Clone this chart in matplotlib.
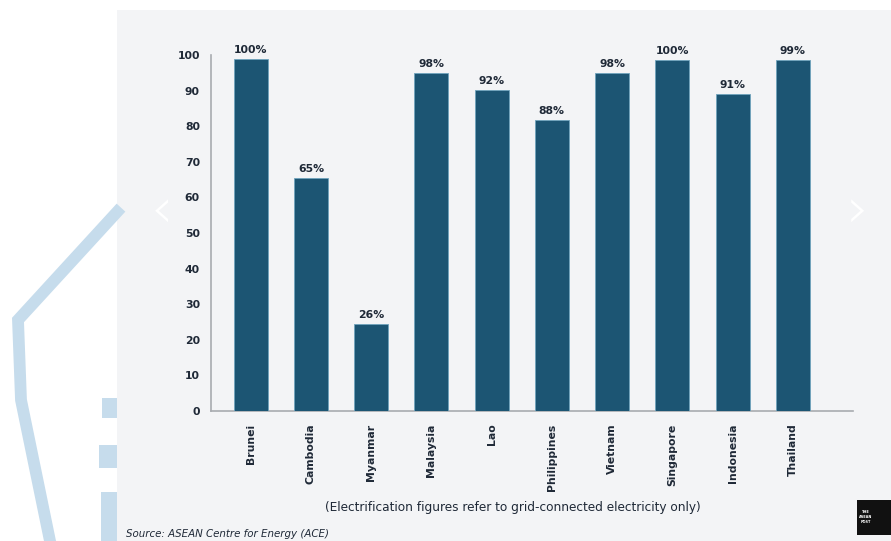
import matplotlib
matplotlib.use("Agg")
import matplotlib.pyplot as plt
from matplotlib.patches import Rectangle
from matplotlib.lines import Line2D

countries = ["Brunei", "Cambodia", "Myanmar", "Malaysia", "Lao",
             "Philippines", "Vietnam", "Singapore", "Indonesia", "Thailand"]
bar_heights = [98.8, 65.5, 24.4, 95.0, 90.2, 81.7, 95.0, 98.6, 89.0, 98.6]
value_labels = ["100%", "65%", "26%", "98%", "92%", "88%", "98%", "100%", "91%", "99%"]
y_ticks = [0, 10, 20, 30, 40, 50, 60, 70, 80, 90, 100]
caption = "(Electrification figures refer to grid-connected electricity only)"
source = "Source: ASEAN Centre for Energy (ACE)"

W, H = 891, 541
fig = plt.figure(figsize=(W / 100, H / 100), dpi=100)
fig.patch.set_facecolor("white")

def fx(px):
    return px / W

def fy(py):
    return 1 - py / H

# watermark (light blue outline on the left)
wm = "#c6dcec"
fig.add_artist(Line2D([fx(117), fx(18), fx(21), fx(50)],
                      [fy(212), fy(320), fy(400), fy(541)],
                      transform=fig.transFigure, color=wm, lw=8.5, solid_joinstyle="miter"))
for (x0, y0, x1, y1) in [(102, 398, 117, 418), (99, 445, 117, 468), (101, 492, 117, 541)]:
    fig.add_artist(Rectangle((fx(x0), fy(y1)), fx(x1) - fx(x0), fy(y0) - fy(y1),
                             transform=fig.transFigure, color=wm, lw=0))

# grey panel
panel = Rectangle((fx(117), 0), 1 - fx(117), fy(10), transform=fig.transFigure,
                  facecolor="#f3f4f6", edgecolor="none", zorder=0)
fig.add_artist(panel)

# carousel arrows
fig.text(fx(162), fy(212), "\u2039", color="white", fontsize=40, ha="center", va="center",
         family="DejaVu Sans", fontweight="light")
fig.text(fx(858), fy(212), "\u203a", color="white", fontsize=40, ha="center", va="center",
         family="DejaVu Sans", fontweight="light")

ax = fig.add_axes([fx(211), fy(411), fx(853) - fx(211), fy(55) - fy(411)])
ax.set_facecolor("none")
ax.set_zorder(2)

x = list(range(len(countries)))
bar_color = "#1c5573"
ax.bar(x, bar_heights, width=0.565, color=bar_color, edgecolor="#6fa3bd",
       linewidth=0.6, zorder=3)

txt_color = "#1f2937"
FONT = "DejaVu Sans"
for xi, h, lab in zip(x, bar_heights, value_labels):
    ax.annotate(lab, (xi, h), xytext=(0, 3), textcoords="offset points",
                ha="center", va="bottom", fontsize=7.8, fontweight="bold",
                color=txt_color, family=FONT, annotation_clip=False)

ax.set_xlim(-0.66, len(countries) - 1 + 1.0)
ax.set_ylim(0, 100)
ax.set_yticks(y_ticks)
ax.set_yticklabels([str(t) for t in y_ticks], fontsize=7.8, fontweight="bold",
                   color=txt_color, family=FONT)
ax.set_xticks(x)
ax.set_xticklabels(countries, rotation=90, fontsize=7.8, fontweight="bold",
                   color=txt_color, family=FONT, ha="center", va="top")
ax.tick_params(axis="both", length=0)
ax.tick_params(axis="y", pad=8)
ax.tick_params(axis="x", pad=9)
for s in ["top", "right"]:
    ax.spines[s].set_visible(False)
for s in ["left", "bottom"]:
    ax.spines[s].set_color("#a8abb0")
    ax.spines[s].set_linewidth(1.2)

fig.text(fx(513), fy(508), caption, ha="center", va="center", fontsize=8.7,
         color=txt_color, family=FONT)
fig.text(fx(126), fy(534), source, ha="left", va="center", fontsize=7.4,
         color=txt_color, family=FONT, style="italic")

# logo
logo = Rectangle((fx(857), fy(535)), fx(891) - fx(857), fy(500) - fy(535),
                 transform=fig.transFigure, facecolor="#111111", edgecolor="none", zorder=5)
fig.add_artist(logo)
fig.text(fx(866), fy(517), "THE\nASEAN\nPOST", color="white", fontsize=2.5,
         ha="center", va="center", family="DejaVu Sans", fontweight="bold", zorder=6)

fig.savefig("out.png", dpi=100, facecolor=fig.get_facecolor())
